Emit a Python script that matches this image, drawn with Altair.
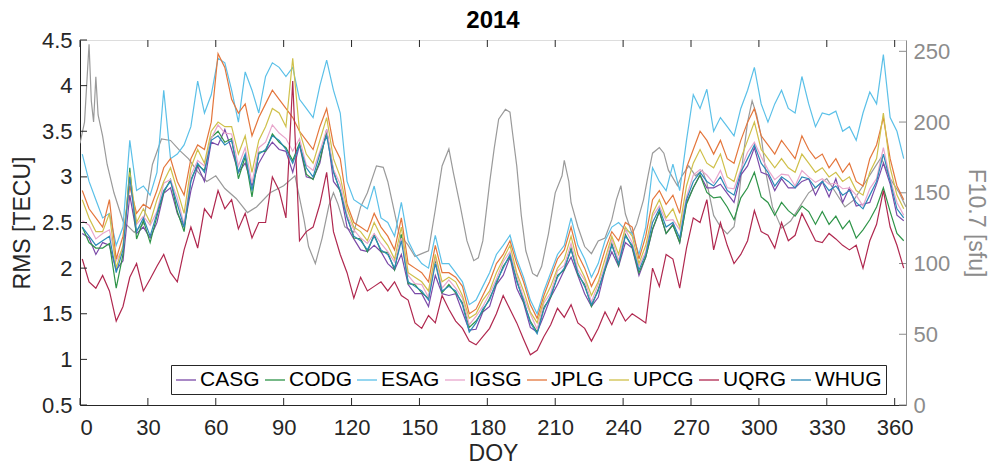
import altair as alt
import pandas as pd

# ---------------- data ----------------
days = list(range(1, 365, 3))  # DOY grid of the RMS series

series_names = ["CASG", "CODG", "ESAG", "IGSG", "JPLG", "UPCG", "UQRG", "WHUG"]
series_colors = ["#7B4AA8", "#2E9448", "#5BC0E8", "#E8A6CC", "#E4763C", "#CFC04A", "#B0284F", "#2C8AB8"]

casg = [2.38, 2.33, 2.15, 2.28, 2.25, 1.98, 2.08, 2.80, 2.38, 2.45,
        2.33, 2.50, 2.82, 2.88, 2.60, 2.45, 2.85, 3.12, 2.95, 3.38,
        3.35, 3.52, 3.30, 3.05, 3.15, 2.90, 3.15, 3.28, 3.38, 3.30,
        3.28, 3.05, 3.35, 3.00, 2.98, 3.15, 3.52, 2.95, 2.85, 2.45,
        2.32, 2.20, 2.18, 2.25, 2.18, 2.05, 1.98, 2.15, 1.82, 1.72,
        1.72, 1.58, 1.92, 1.72, 1.70, 1.72, 1.52, 1.32, 1.33, 1.52,
        1.58, 1.82, 1.92, 2.12, 1.78, 1.62, 1.35, 1.30, 1.48, 1.68,
        1.82, 1.98, 2.12, 1.92, 1.72, 1.58, 1.68, 1.98, 2.18, 2.02,
        2.28, 2.22, 1.92, 2.12, 2.42, 2.62, 2.38, 2.48, 2.28, 2.72,
        2.88, 3.02, 2.88, 2.88, 2.92, 2.82, 2.72, 3.02, 3.12, 3.32,
        3.05, 3.02, 2.85, 2.98, 2.88, 2.88, 2.95, 2.98, 2.80, 2.95,
        2.78, 2.98, 2.72, 2.88, 2.68, 2.70, 2.72, 2.92, 3.15, 2.92,
        2.58, 2.52]

codg = [2.45, 2.28, 2.22, 2.22, 2.27, 1.78, 2.15, 3.10, 2.32, 2.52,
        2.28, 2.57, 2.83, 2.97, 2.62, 2.40, 2.97, 3.13, 3.07, 3.43,
        3.50, 3.38, 3.42, 2.98, 3.22, 2.78, 3.27, 3.28, 3.47, 3.38,
        3.32, 3.18, 3.37, 3.03, 2.97, 3.18, 3.50, 3.07, 2.83, 2.57,
        2.33, 2.32, 2.18, 2.37, 2.18, 2.17, 1.98, 2.37, 1.83, 1.82,
        1.73, 1.67, 2.10, 1.73, 1.82, 1.73, 1.62, 1.35, 1.42, 1.53,
        1.67, 1.83, 2.02, 2.13, 1.87, 1.63, 1.42, 1.30, 1.57, 1.68,
        1.92, 1.98, 2.22, 1.93, 1.82, 1.58, 1.77, 1.98, 2.27, 2.03,
        2.37, 2.23, 1.95, 2.12, 2.43, 2.62, 2.38, 2.47, 2.28, 2.70,
        2.88, 3.02, 2.83, 2.77, 2.78, 2.67, 2.53, 2.77, 2.88, 3.05,
        2.78, 2.72, 2.58, 2.72, 2.63, 2.57, 2.68, 2.62, 2.48, 2.62,
        2.48, 2.57, 2.43, 2.52, 2.33, 2.42, 2.53, 2.67, 2.88, 2.62,
        2.38, 2.30]

esag = [3.25, 2.95, 2.75, 2.55, 2.60, 2.25, 2.45, 3.40, 2.85, 2.90,
        2.80, 3.05, 3.95, 3.20, 3.25, 3.35, 3.55, 4.05, 3.70, 3.90,
        4.30, 4.25, 3.95, 3.60, 4.15, 3.95, 3.70, 4.10, 4.25, 4.20,
        4.10, 4.20, 3.85, 3.75, 3.65, 4.00, 4.28, 3.95, 3.70, 2.95,
        2.75, 2.70, 2.65, 2.90, 2.55, 2.50, 2.35, 2.72, 2.30, 2.15,
        2.05, 2.00, 2.36, 2.05, 2.05, 1.95, 1.85, 1.60, 1.65, 1.80,
        1.95, 2.15, 2.25, 2.36, 2.10, 1.90, 1.65, 1.50, 1.75, 1.95,
        2.15, 2.25, 2.55, 2.25, 2.10, 1.90, 2.05, 2.30, 2.45, 2.50,
        2.42, 2.38, 2.15, 2.45, 3.10, 2.95, 2.85, 3.14, 2.85, 3.40,
        3.90, 3.75, 3.96, 3.50, 3.65, 3.55, 3.45, 3.75, 3.95, 4.20,
        3.80, 3.60, 3.80, 3.95, 3.75, 3.70, 4.10, 3.80, 3.55, 3.70,
        3.68, 3.72, 3.50, 3.55, 3.40, 3.70, 3.93, 3.80, 4.34, 3.65,
        3.50, 3.20]

igsg = [2.52, 2.47, 2.32, 2.38, 2.42, 2.08, 2.22, 2.93, 2.48, 2.57,
        2.47, 2.62, 2.93, 2.97, 2.77, 2.48, 3.02, 3.18, 3.12, 3.42,
        3.57, 3.48, 3.47, 3.12, 3.32, 2.93, 3.32, 3.38, 3.57, 3.48,
        3.42, 3.28, 3.42, 3.13, 3.07, 3.28, 3.52, 3.08, 2.92, 2.58,
        2.42, 2.33, 2.27, 2.38, 2.27, 2.18, 2.07, 2.33, 1.92, 1.83,
        1.82, 1.68, 2.12, 1.78, 1.87, 1.78, 1.67, 1.38, 1.47, 1.58,
        1.72, 1.88, 2.07, 2.18, 1.92, 1.68, 1.50, 1.33, 1.62, 1.73,
        1.97, 2.03, 2.27, 1.98, 1.87, 1.63, 1.82, 2.03, 2.32, 2.08,
        2.42, 2.28, 2.02, 2.18, 2.57, 2.68, 2.52, 2.53, 2.42, 2.78,
        3.02, 3.08, 3.02, 2.93, 3.07, 2.88, 2.87, 3.08, 3.27, 3.38,
        3.22, 3.08, 2.97, 3.03, 3.02, 2.90, 3.07, 3.00, 2.94, 2.98,
        2.92, 2.93, 2.87, 2.88, 2.80, 2.68, 2.87, 2.98, 3.32, 2.98,
        2.72, 2.58]

jplg = [2.85, 2.65, 2.55, 2.45, 2.75, 2.10, 2.35, 2.90, 2.60, 2.70,
        2.65, 2.85, 3.10, 3.20, 2.95, 2.80, 3.20, 3.35, 3.30, 3.60,
        4.35, 4.20, 3.85, 3.70, 3.80, 3.45, 3.65, 3.80, 3.95, 3.85,
        3.75, 3.65, 3.50, 3.40, 3.30, 3.55, 3.75, 3.35, 3.20, 2.70,
        2.50, 2.45, 2.40, 2.60, 2.45, 2.35, 2.20, 2.55, 2.05, 2.00,
        1.95, 1.85, 2.25, 1.95, 1.95, 1.90, 1.80, 1.50, 1.55, 1.70,
        1.85, 2.05, 2.15, 2.30, 2.05, 1.85, 1.60, 1.45, 1.70, 1.90,
        2.10, 2.20, 2.45, 2.15, 2.00, 1.80, 1.95, 2.20, 2.40, 2.30,
        2.50, 2.45, 2.10, 2.35, 2.75, 2.85, 2.70, 2.80, 2.60, 3.10,
        3.30, 3.50, 3.40, 3.25, 3.40, 3.20, 3.15, 3.40, 3.60, 3.75,
        3.45, 3.35, 3.25, 3.40, 3.30, 3.20, 3.45, 3.30, 3.20, 3.25,
        3.10, 3.20, 3.05, 3.15, 2.95, 2.90, 3.20, 3.35, 3.65, 3.20,
        2.90, 2.75]

upcg = [2.75, 2.55, 2.40, 2.40, 2.60, 2.00, 2.25, 3.05, 2.50, 2.65,
        2.50, 2.75, 2.95, 3.10, 2.85, 2.60, 3.10, 3.30, 3.15, 3.50,
        3.60, 3.55, 3.55, 3.25, 3.45, 3.05, 3.40, 3.55, 3.75, 3.70,
        3.55, 4.30, 3.50, 3.25, 3.15, 3.40, 3.65, 3.20, 3.00, 2.65,
        2.45, 2.40, 2.30, 2.50, 2.35, 2.25, 2.10, 2.45, 1.95, 1.90,
        1.85, 1.75, 2.15, 1.85, 1.90, 1.85, 1.70, 1.45, 1.50, 1.65,
        1.75, 1.95, 2.10, 2.25, 1.95, 1.75, 1.52, 1.40, 1.65, 1.80,
        2.00, 2.10, 2.35, 2.05, 1.90, 1.70, 1.85, 2.10, 2.35, 2.15,
        2.45, 2.35, 2.05, 2.25, 2.60, 2.75, 2.55, 2.65, 2.45, 2.90,
        3.15, 3.30, 3.15, 3.10, 3.25, 3.00, 2.95, 3.20, 3.40, 3.60,
        3.30, 3.20, 3.10, 3.20, 3.10, 3.05, 3.25, 3.15, 3.05, 3.10,
        3.00, 3.05, 2.95, 3.00, 2.85, 2.80, 3.05, 3.20, 3.70, 3.10,
        2.80, 2.65]

uqrg = [2.10, 1.85, 1.78, 1.92, 1.75, 1.42, 1.58, 1.90, 2.05, 1.75,
        1.88, 2.02, 2.15, 1.95, 1.85, 2.20, 2.45, 2.22, 2.65, 2.55,
        2.85, 2.65, 2.75, 2.43, 2.60, 2.33, 2.50, 2.50, 3.00, 2.85,
        2.55, 4.05, 2.30, 2.40, 2.45, 2.70, 3.05, 2.40, 2.15, 1.95,
        1.67, 1.90, 1.75, 1.80, 1.85, 1.75, 1.85, 1.70, 1.65, 1.40,
        1.34, 1.48, 1.40, 1.70, 1.55, 1.42, 1.34, 1.20, 1.16, 1.25,
        1.34, 1.50, 1.70, 1.55, 1.40, 1.22, 1.05, 1.10, 1.25, 1.38,
        1.56, 1.46, 1.60, 1.40, 1.34, 1.20, 1.34, 1.52, 1.38, 1.56,
        1.42, 1.50, 1.45, 1.40, 2.00, 1.80, 2.15, 2.10, 1.78, 2.22,
        2.55, 2.50, 2.75, 2.20, 2.50, 2.25, 2.05, 2.15, 2.30, 2.63,
        2.40, 2.36, 2.22, 2.50, 2.30, 2.36, 2.60, 2.45, 2.30, 2.28,
        2.38, 2.32, 2.25, 2.20, 2.25, 2.00, 2.30, 2.48, 2.85, 2.45,
        2.25, 2.00]

whug = [2.45, 2.35, 2.25, 2.30, 2.35, 1.95, 2.20, 3.00, 2.40, 2.55,
        2.35, 2.60, 2.85, 2.95, 2.70, 2.45, 2.95, 3.15, 3.05, 3.40,
        3.45, 3.35, 3.40, 3.05, 3.25, 2.85, 3.25, 3.30, 3.45, 3.40,
        3.30, 3.15, 3.35, 3.10, 3.00, 3.25, 3.45, 3.05, 2.85, 2.55,
        2.35, 2.30, 2.20, 2.35, 2.20, 2.15, 2.00, 2.30, 1.85, 1.80,
        1.75, 1.65, 2.05, 1.75, 1.80, 1.75, 1.60, 1.30, 1.40, 1.55,
        1.65, 1.85, 2.00, 2.15, 1.85, 1.65, 1.40, 1.28, 1.55, 1.70,
        1.90, 2.00, 2.20, 1.95, 1.80, 1.60, 1.75, 2.00, 2.25, 2.05,
        2.35, 2.25, 1.98, 2.15, 2.50, 2.65, 2.45, 2.50, 2.33, 2.75,
        2.95, 3.05, 2.95, 2.90, 3.00, 2.85, 2.80, 3.05, 3.20, 3.35,
        3.15, 3.05, 2.90, 3.00, 2.95, 2.88, 3.00, 2.98, 2.88, 2.95,
        2.85, 2.90, 2.80, 2.85, 2.72, 2.65, 2.80, 2.95, 3.25, 2.95,
        2.65, 2.55]

# F10.7 solar flux (right axis)
f107_day = [0, 2, 4, 5, 6, 7, 8, 10, 12, 15, 19, 24, 28, 30, 32, 36, 40, 44, 48, 52,
            56, 60, 64, 69, 74, 78, 84, 90, 95, 99, 101, 104, 107, 110, 112, 114, 117, 121, 124, 127,
            131, 134, 136, 139, 141, 145, 148, 151, 154, 157, 160, 163, 165, 168, 171, 174, 176, 178, 181, 183,
            185, 188, 190, 191, 193, 195, 197, 200, 202, 204, 207, 210, 213, 214, 216, 217, 220, 223, 226, 229,
            232, 235, 237, 239, 241, 244, 246, 249, 251, 253, 256, 258, 260, 264, 266, 269, 272, 275, 277, 280,
            283, 286, 289, 291, 293, 295, 297, 299, 301, 303, 306, 310, 314, 318, 322, 326, 330, 334, 338, 342,
            346, 350, 354, 358, 362, 365]
f107_val = [185, 200, 255, 215, 200, 232, 205, 190, 170, 150, 130, 122, 128, 150, 170, 188, 187, 180, 174, 165,
            158, 162, 153, 146, 136, 140, 150, 155, 162, 131, 112, 100, 118, 141, 150, 142, 126, 122, 140, 150,
            169, 168, 158, 136, 121, 113, 105, 107, 109, 138, 169, 181, 164, 141, 116, 102, 104, 116, 157, 181,
            202, 209, 207, 194, 169, 134, 109, 93, 91, 98, 121, 150, 162, 173, 158, 143, 126, 112, 107, 116,
            118, 131, 145, 155, 135, 121, 128, 145, 162, 178, 182, 178, 166, 155, 162, 169, 162, 166, 157, 134,
            126, 121, 126, 145, 175, 200, 215, 205, 190, 165, 140, 125, 130, 140, 150, 155, 160, 150, 140, 145,
            155, 165, 175, 160, 150, 140]

x_ticks = [0, 30, 60, 90, 120, 150, 180, 210, 240, 270, 300, 330, 360]
rms_ticks = [0.5, 1, 1.5, 2, 2.5, 3, 3.5, 4, 4.5]
f107_ticks = [0, 50, 100, 150, 200, 250]

# ---------------- tables ----------------
all_series = [casg, codg, esag, igsg, jplg, upcg, uqrg, whug]
rows = []
for name, vals in zip(series_names, all_series):
    assert len(vals) == len(days), name
    for d, v in zip(days, vals):
        rows.append({"DOY": d, "RMS": v, "AC": name})
rms_df = pd.DataFrame(rows)
f_df = pd.DataFrame({"DOY": f107_day, "F": f107_val})
xt_df = pd.DataFrame({"DOY": x_ticks})
yt_df = pd.DataFrame({"RMS": rms_ticks})
ft_df = pd.DataFrame({"F": f107_ticks})

FONT = "Liberation Sans"
DARK = "#262626"
GRAY = "#8C8C8C"
W, H = 826, 365

x_scale = alt.Scale(domain=[0, 365], nice=False, zero=False)
y_scale = alt.Scale(domain=[0.5, 4.5], nice=False, zero=False)
f_scale = alt.Scale(domain=[0, 258], nice=False, zero=False)

x_axis = alt.Axis(values=x_ticks, title="DOY", grid=False, ticks=False, tickSize=0,
                  domainColor=DARK, labelColor=DARK, titleColor=DARK,
                  labelFontSize=22, titleFontSize=23, labelPadding=12, titlePadding=4,
                  labelFont=FONT, titleFont=FONT, titleFontWeight="normal", format="d")
y_axis = alt.Axis(values=rms_ticks, title="RMS [TECU]", grid=False, ticks=False, tickSize=0,
                  domainColor=DARK, labelColor=DARK, titleColor=DARK,
                  labelFontSize=22, titleFontSize=23, labelPadding=8, titlePadding=7,
                  labelFont=FONT, titleFont=FONT, titleFontWeight="normal", format="~g")
f_axis = alt.Axis(values=f107_ticks, title="F10.7 [sfu]", orient="right", grid=False, ticks=False,
                  tickSize=0, domainColor=GRAY, labelColor=GRAY, titleColor=GRAY,
                  labelFontSize=22, titleFontSize=23, labelPadding=7, titlePadding=14,
                  labelFont=FONT, titleFont=FONT, titleFontWeight="normal", format="d")

X = alt.X("DOY:Q", scale=x_scale, axis=x_axis)

lines = alt.Chart(rms_df).mark_line(strokeWidth=1.2, clip=True).encode(
    x=X,
    y=alt.Y("RMS:Q", scale=y_scale, axis=y_axis),
    color=alt.Color("AC:N", scale=alt.Scale(domain=series_names, range=series_colors),
                    legend=alt.Legend(title=None, orient="none", legendX=91, legendY=325,
                                      direction="horizontal", columns=8, symbolType="stroke",
                                      symbolSize=400, symbolStrokeWidth=1.3, labelFontSize=21,
                                      labelFont=FONT, labelColor="black", labelOffset=3,
                                      columnPadding=2, padding=4, strokeColor=DARK,
                                      fillColor="white", labelLimit=0)),
)

bottom_ticks = alt.Chart(xt_df).mark_rule(color=DARK, strokeWidth=1).encode(
    x=X, y=alt.value(H), y2=alt.value(H - 7))
top_ticks = alt.Chart(xt_df).mark_rule(color=DARK, strokeWidth=1).encode(
    x=X, y=alt.value(0), y2=alt.value(7))
left_ticks = alt.Chart(yt_df).mark_rule(color=DARK, strokeWidth=1).encode(
    y=alt.Y("RMS:Q", scale=y_scale, axis=y_axis), x=alt.value(0), x2=alt.value(7))

left = alt.layer(lines, bottom_ticks, top_ticks, left_ticks)

f_line = alt.Chart(f_df).mark_line(color="#9A9A9A", strokeWidth=1.2, clip=True).encode(
    x=X,
    y=alt.Y("F:Q", scale=f_scale, axis=f_axis),
)
right_ticks = alt.Chart(ft_df).mark_rule(color=GRAY, strokeWidth=1).encode(
    y=alt.Y("F:Q", scale=f_scale, axis=f_axis), x=alt.value(W), x2=alt.value(W - 7))
right = alt.layer(f_line, right_ticks)

chart = alt.layer(right, left).resolve_scale(y="independent").properties(
    width=W, height=H,
    title=alt.TitleParams("2014", fontSize=24, fontWeight="bold", font=FONT,
                          anchor="middle", frame="group", offset=8, dy=12, color="black"),
    padding={"left": 80, "top": 40, "right": 91, "bottom": 65},
    autosize=alt.AutoSizeParams(type="none"),
).configure_view(stroke=DARK, strokeWidth=1).configure(background="white", font=FONT)

chart.save("out.html", embed_options={"renderer": "svg", "actions": False})
